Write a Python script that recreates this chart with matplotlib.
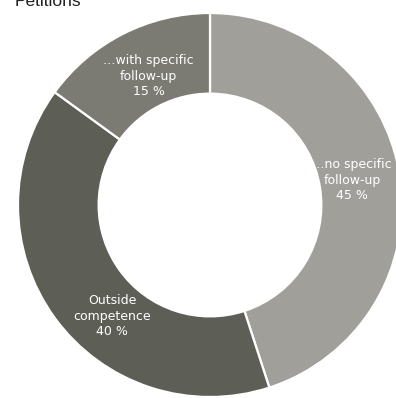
import matplotlib.pyplot as plt

labels = ['…no specific\nfollow-up\n45 %', 'Outside\ncompetence\n40 %', '…with specific\nfollow-up\n15 %']
shares = [45, 40, 15]
colors = ['#a09f9a', '#5d5f57', '#7b7b73']
label_pos = [(0.74, 0.13), (-0.51, -0.58), (-0.32, 0.67)]

plt.rcParams['font.family'] = ['Liberation Sans Narrow', 'DejaVu Sans']

W, H = 396, 398
fig = plt.figure(figsize=(W / 100, H / 100), dpi=100)
cx, cy, r = 210, 205, 192
ax = fig.add_axes([(cx - r) / W, (H - cy - r) / H, 2 * r / W, 2 * r / H])

ax.pie(shares, colors=colors, startangle=90, counterclock=False, radius=1,
       wedgeprops=dict(width=0.42, edgecolor='white', linewidth=1.6))
for lab, (x, y) in zip(labels, label_pos):
    ax.text(x, y, lab, color='white', ha='center', va='center', fontsize=9,
            linespacing=1.25)
ax.set_xlim(-1, 1)
ax.set_ylim(-1, 1)
ax.set_aspect('equal')
ax.axis('off')

# title sits partly above the top edge, as in the source
fig.text(15 / W, (H - 6) / H, 'Petitions', fontsize=12.5, color='#222222',
         ha='left', va='baseline', family=['Liberation Sans', 'DejaVu Sans'])

fig.savefig('out.png', dpi=100)
